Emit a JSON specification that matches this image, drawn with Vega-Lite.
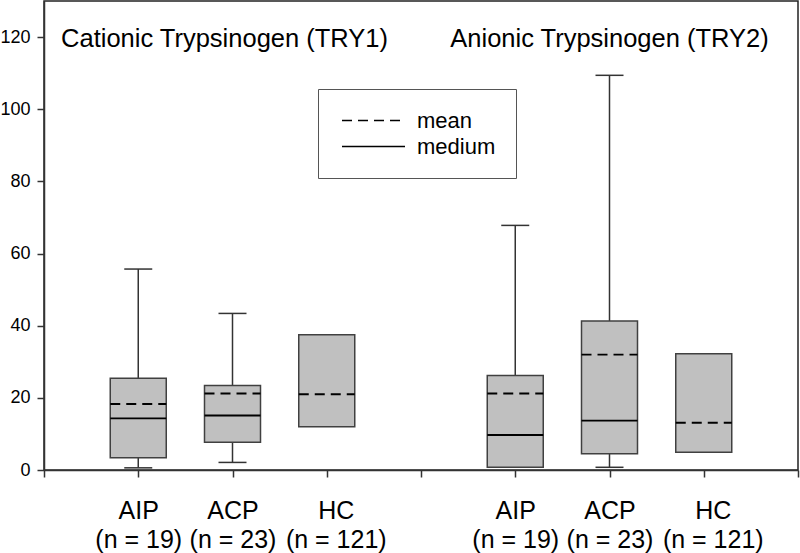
{
  "$schema": "https://vega.github.io/schema/vega-lite/v6.json",
  "width": 754,
  "height": 469,
  "autosize": {"type": "none"},
  "padding": {"left": 44, "top": 1, "right": 2, "bottom": 83},
  "background": "white",
  "config": {
    "font": "Liberation Sans",
    "view": {"stroke": "#222", "strokeWidth": 1.5},
    "axis": {"grid": false, "domainColor": "#333", "domainWidth": 1.5, "tickColor": "#333", "tickWidth": 1.5, "tickSize": 7, "labelColor": "black", "labelFont": "Liberation Sans"}
  },
  "data": {
    "values": [
      {"protein": "TRY1", "slot": "TRY1:AIP:(n = 19)", "low": 0.6, "q1": 3.4, "median": 14.3, "mean": 18.3, "q3": 25.4, "high": 55.7},
      {"protein": "TRY1", "slot": "TRY1:ACP:(n = 23)", "low": 2.1, "q1": 7.7, "median": 15.1, "mean": 21.2, "q3": 23.4, "high": 43.4},
      {"protein": "TRY1", "slot": "TRY1:HC:(n = 121)", "low": null, "q1": 12.0, "median": null, "mean": 21.0, "q3": 37.5, "high": null},
      {"protein": "TRY2", "slot": "TRY2:AIP:(n = 19)", "low": null, "q1": 0.75, "median": 9.7, "mean": 21.2, "q3": 26.2, "high": 67.8},
      {"protein": "TRY2", "slot": "TRY2:ACP:(n = 23)", "low": 0.75, "q1": 4.5, "median": 13.7, "mean": 32.0, "q3": 41.3, "high": 109.4},
      {"protein": "TRY2", "slot": "TRY2:HC:(n = 121)", "low": null, "q1": 4.9, "median": null, "mean": 13.1, "q3": 32.2, "high": null}
    ]
  },
  "encoding": {
    "x": {
      "field": "slot",
      "type": "nominal",
      "scale": {"type": "point", "padding": 0, "domain": ["start", "TRY1:AIP:(n = 19)", "TRY1:ACP:(n = 23)", "TRY1:HC:(n = 121)", "mid", "TRY2:AIP:(n = 19)", "TRY2:ACP:(n = 23)", "TRY2:HC:(n = 121)", "end"]},
      "axis": {
        "title": null,
        "labelAngle": 0,
        "labelFontSize": 25,
        "labelLineHeight": 29,
        "labelPadding": 21,
        "labelOffset": {"condition": {"test": "indexof(datum.value, 'HC') >= 0", "value": 9}, "value": 0},
        "labelExpr": "length(split(datum.value, ':')) > 1 ? slice(split(datum.value, ':'), 1) : ''"
      }
    }
  },
  "layer": [
    {
      "mark": {"type": "rule", "color": "#333", "strokeWidth": 1.5},
      "encoding": {
        "y": {"field": "low", "type": "quantitative", "scale": {"domain": [0, 130], "nice": false}, "axis": {"title": null, "values": [0, 20, 40, 60, 80, 100, 120], "labelFontSize": 18, "labelPadding": 7}},
        "y2": {"field": "q1"}
      }
    },
    {
      "mark": {"type": "rule", "color": "#333", "strokeWidth": 1.5},
      "encoding": {
        "y": {"field": "q3", "type": "quantitative"},
        "y2": {"field": "high"}
      }
    },
    {
      "transform": [{"fold": ["low", "high"], "as": ["capkey", "capval"]}],
      "mark": {"type": "rule", "color": "#333", "strokeWidth": 1.5, "xOffset": -14, "x2Offset": 14},
      "encoding": {
        "x2": {"field": "slot"},
        "y": {"field": "capval", "type": "quantitative"}
      }
    },
    {
      "mark": {"type": "bar", "width": 56, "fill": "#c0c0c0", "stroke": "#404040", "strokeWidth": 1.5},
      "encoding": {
        "y": {"field": "q1", "type": "quantitative"},
        "y2": {"field": "q3"}
      }
    },
    {
      "transform": [{"fold": ["mean", "median"], "as": ["stat", "value"]}],
      "mark": {"type": "rule", "color": "black", "strokeWidth": 1.8, "xOffset": -28, "x2Offset": 28},
      "encoding": {
        "x2": {"field": "slot"},
        "y": {"field": "value", "type": "quantitative"},
        "strokeDash": {
          "field": "stat",
          "type": "nominal",
          "scale": {"domain": ["mean", "median"], "range": [[10, 6], [1, 0]]},
          "legend": {
            "title": null,
            "orient": "none",
            "legendX": 274,
            "legendY": 88,
            "padding": 20,
            "symbolOffset": 24,
            "strokeColor": "#555",
            "fillColor": "white",
            "symbolType": "M-3,0H3",
            "symbolSize": 441,
            "symbolStrokeWidth": 1.6,
            "symbolStrokeColor": "black",
            "labelFontSize": 22,
            "labelFont": "Liberation Sans",
            "labelColor": "black",
            "labelOffset": 32,
            "rowPadding": 3,
            "labelExpr": "datum.label == 'median' ? 'medium' : datum.label"
          }
        }
      }
    },
    {
      "data": {"values": [{"title": "Cationic Trypsinogen (TRY1)", "slot": "TRY1:ACP:(n = 23)"}]},
      "mark": {"type": "text", "fontSize": 25.5, "color": "black", "baseline": "alphabetic", "align": "center", "dx": -8},
      "encoding": {
        "y": {"datum": 117.2, "type": "quantitative"},
        "text": {"field": "title"}
      }
    },
    {
      "data": {"values": [{"title": "Anionic Trypsinogen (TRY2)", "slot": "TRY2:ACP:(n = 23)"}]},
      "mark": {"type": "text", "fontSize": 25.5, "color": "black", "baseline": "alphabetic", "align": "center"},
      "encoding": {
        "y": {"datum": 117.2, "type": "quantitative"},
        "text": {"field": "title"}
      }
    }
  ]
}
